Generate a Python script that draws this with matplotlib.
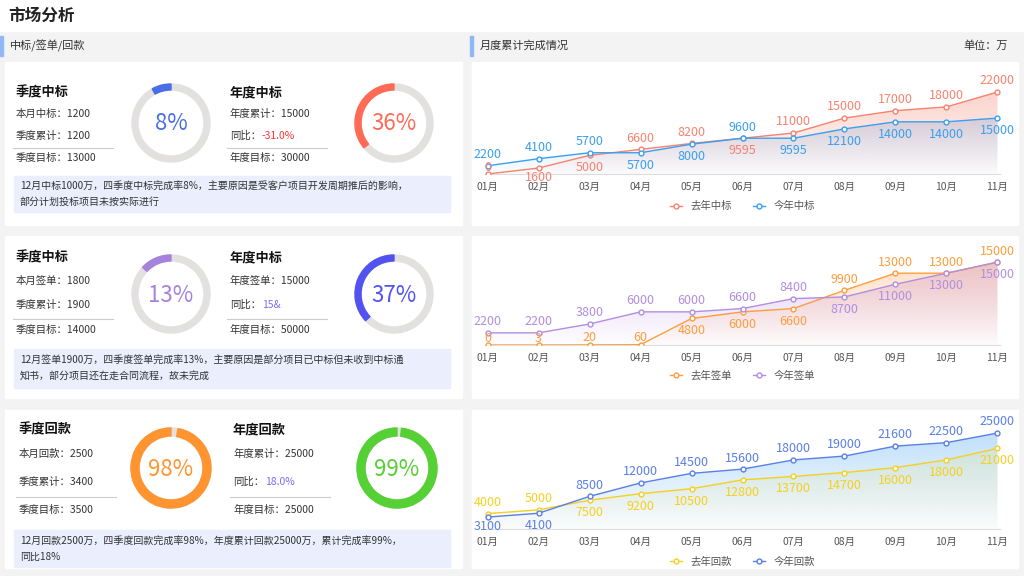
import numpy as np
import matplotlib.pyplot as plt
from matplotlib.patches import Rectangle, Wedge, Polygon
from matplotlib.colors import LinearSegmentedColormap, to_rgb

plt.rcParams['font.family'] = ['Noto Sans CJK SC', 'DejaVu Sans']

months = ['01月', '02月', '03月', '04月', '05月', '06月', '07月', '08月', '09月', '10月', '11月']

bid_last = [0, 1600, 5000, 6600, 8200, 9595, 11000, 15000, 17000, 18000, 22000]
bid_this = [2200, 4100, 5700, 5700, 8000, 9600, 9595, 12100, 14000, 14000, 15000]
sign_last = [0, 3, 20, 60, 4800, 6000, 6600, 9900, 13000, 13000, 15000]
sign_this = [2200, 2200, 3800, 6000, 6000, 6600, 8400, 8700, 11000, 13000, 15000]
pay_last = [4000, 5000, 7500, 9200, 10500, 12800, 13700, 14700, 16000, 18000, 21000]
pay_this = [3100, 4100, 8500, 12000, 14500, 15600, 18000, 19000, 21600, 22500, 25000]

ring_pcts = [[8, 36], [13, 37], [98, 99]]

W, H = 1024, 576
fig = plt.figure(figsize=(W / 100, H / 100), dpi=100, facecolor='#f3f3f3')
bg = fig.add_axes([0, 0, 1, 1])
bg.set_xlim(0, W)
bg.set_ylim(H, 0)
bg.axis('off')


def txt(x, y, s, size=8, color='#333333', **kw):
    bg.text(x, y, s, fontsize=size, color=color, va='center', **kw)


# header strips
bg.add_patch(Rectangle((0, 0), W, 31, color='white'))
txt(8, 16, '市场分析', 12, '#222222', fontweight='bold')
bg.add_patch(Rectangle((0, 36), 3, 20, color='#8fb8f5'))
bg.add_patch(Rectangle((470, 36), 3, 20, color='#8fb8f5'))
txt(10, 46, '中标/签单/回款', 8)
txt(480, 46, '月度累计完成情况', 8)
txt(1008, 46, '单位：万', 8, ha='right')

cards = [(62, 225), (236, 398), (410, 568)]
for y0, y1 in cards:
    bg.add_patch(Rectangle((5, y0), 457, y1 - y0, color='white'))
    bg.add_patch(Rectangle((472, y0), 546, y1 - y0, color='white'))

# left text blocks
blocks = [
    dict(t=['季度中标', '年度中标'],
         l=[['本月中标：1200', '季度累计：1200', '季度目标：13000'],
            ['年度累计：15000', '同比：', '年度目标：30000']],
         yoy='-31.0%', yc='#ff3333', ys=[92, 114, 136, 158], sep=148,
         note=['12月中标1000万，四季度中标完成率8%，主要原因是受客户项目开发周期推后的影响，',
               '部分计划投标项目未按实际进行'], nb=(176, 212), cx=[171, 394], cy=123, r=39, w=6,
         cols=['#4a6ee6', '#ff6a55']),
    dict(t=['季度中标', '年度中标'],
         l=[['本月签单：1800', '季度累计：1900', '季度目标：14000'],
            ['年度签单：15000', '同比：', '年度目标：50000']],
         yoy='15&', yc='#7b6cf0', ys=[257, 281, 305, 330], sep=319,
         note=['12月签单1900万，四季度签单完成率13%，主要原因是部分项目已中标但未收到中标通',
               '知书，部分项目还在走合同流程，故未完成'], nb=(349, 388), cx=[171, 394], cy=294, r=39, w=6,
         cols=['#a582dc', '#5252f0']),
    dict(t=['季度回款', '年度回款'],
         l=[['本月回款：2500', '季度累计：3400', '季度目标：3500'],
            ['年度累计：25000', '同比：', '年度目标：25000']],
         yoy='18.0%', yc='#7b6cf0', ys=[429, 454, 482, 510], sep=497,
         note=['12月回款2500万，四季度回款完成率98%，年度累计回款25000万，累计完成率99%，',
               '同比18%'], nb=(530, 567), cx=[171, 397], cy=468, r=40, w=8,
         cols=['#ff9430', '#55d035']),
]

for b, pcts in zip(blocks, ring_pcts):
    for k, x0 in enumerate([16, 230]):
        if b is blocks[2]:
            x0 += 3
        txt(x0, b['ys'][0], b['t'][k], 9.5, '#111111', fontweight='bold')
        for j, line in enumerate(b['l'][k]):
            txt(x0, b['ys'][j + 1], line, 7.5)
        if k == 1:
            txt(x0 + 32, b['ys'][2], b['yoy'], 7.5, b['yc'])
        bg.plot([x0 - 3, x0 + 97], [b['sep'], b['sep']], color='#cccccc', lw=0.8)
        cx, cy = b['cx'][k], b['cy']
        bg.add_patch(Wedge((cx, cy), b['r'], 0, 360, width=b['w'], color='#e3e0e0'))
        c = b['cols'][k]
        span = 3.6 * pcts[k] - (3 if pcts[k] > 90 else 0)
        bg.add_patch(Wedge((cx, cy), b['r'], -90 - span, -90, width=b['w'], color=c))
        txt(cx, cy + 1, f'{pcts[k]}%', 16, c, ha='center')
    y0, y1 = b['nb']
    bg.add_patch(Rectangle((14, y0), 436, y1 - y0, color='#eaeefd'))
    txt(20, y0 + (y1 - y0) * 0.3, b['note'][0], 7.2)
    txt(20, y0 + (y1 - y0) * 0.72, b['note'][1], 7.2)


def gradient_fill(ax, x, y, color, top_alpha, ymax):
    poly = Polygon(list(zip(x, y)) + [(x[-1], 0), (x[0], 0)], closed=True,
                   facecolor='none', edgecolor='none')
    ax.add_patch(poly)
    rgb = to_rgb(color)
    cmap = LinearSegmentedColormap.from_list('g', [(*rgb, 0.02), (*rgb, top_alpha)])
    grad = np.linspace(0, 1, 100).reshape(-1, 1) * (max(y) / ymax)
    im = ax.imshow(grad, extent=[x[0], x[-1], 0, max(y)], origin='lower', aspect='auto',
                   cmap=cmap, vmin=0, vmax=1, zorder=1)
    im.set_clip_path(poly)


charts = [
    (bid_last, bid_this, '去年中标', '今年中标', '#f7826f', '#3a9ff0', '#f7826f', '#5fa8ea', 70, 174, 27900),
    (sign_last, sign_this, '去年签单', '今年签单', '#ff9d3c', '#b08ee0', '#ffb070', '#c79cf0', 250, 345, 17200),
    (pay_last, pay_this, '去年回款', '今年回款', '#f5d020', '#5a7fe6', '#dfe3a0', '#7fbff5', 420, 529, 28400),
]

for last, this, n1, n2, c1, c2, f1, f2, top, bot, ymax in charts:
    ax = fig.add_axes([485 / W, 1 - bot / H, 515 / W, (bot - top) / H])
    x = np.arange(len(months))
    ax.set_xlim(-0.05, len(months) - 0.95)
    ax.set_ylim(0, ymax)
    gradient_fill(ax, x, np.array(this), f2, 0.55, ymax)
    gradient_fill(ax, x, np.array(last), f1, 0.45, ymax)
    ax.plot(x, last, color=c1, lw=1, marker='o', ms=3.5, mfc='white', mec=c1, label=n1, zorder=3)
    ax.plot(x, this, color=c2, lw=1, marker='o', ms=3.5, mfc='white', mec=c2, label=n2, zorder=3)
    for i in x:
        a, b2 = last[i], this[i]
        for v, c, up in [(a, c1, a >= b2), (b2, c2, b2 > a)]:
            dy = 8 if up else -9
            if not up and v < 0.12 * ymax:
                dy = 5 if v < 0.05 * ymax else -7
            ax.annotate(str(v), (i, v), xytext=(0, dy), textcoords='offset points',
                        ha='center', va='center', fontsize=9, color=c, zorder=4)
    for s in ['top', 'right', 'left']:
        ax.spines[s].set_visible(False)
    ax.spines['bottom'].set_color('#dddddd')
    ax.set_yticks([])
    ax.set_xticks(x)
    ax.set_xticklabels(months, fontsize=7.5, color='#555555')
    ax.tick_params(axis='x', length=0, pad=6)
    ax.set_facecolor('none')
    ax.legend(loc='upper center', bbox_to_anchor=(0.5, -0.17), ncol=2, frameon=False,
              fontsize=7.5, handlelength=1.2, labelcolor='#555555', columnspacing=2)

fig.savefig('out.png', dpi=100, facecolor=fig.get_facecolor())
